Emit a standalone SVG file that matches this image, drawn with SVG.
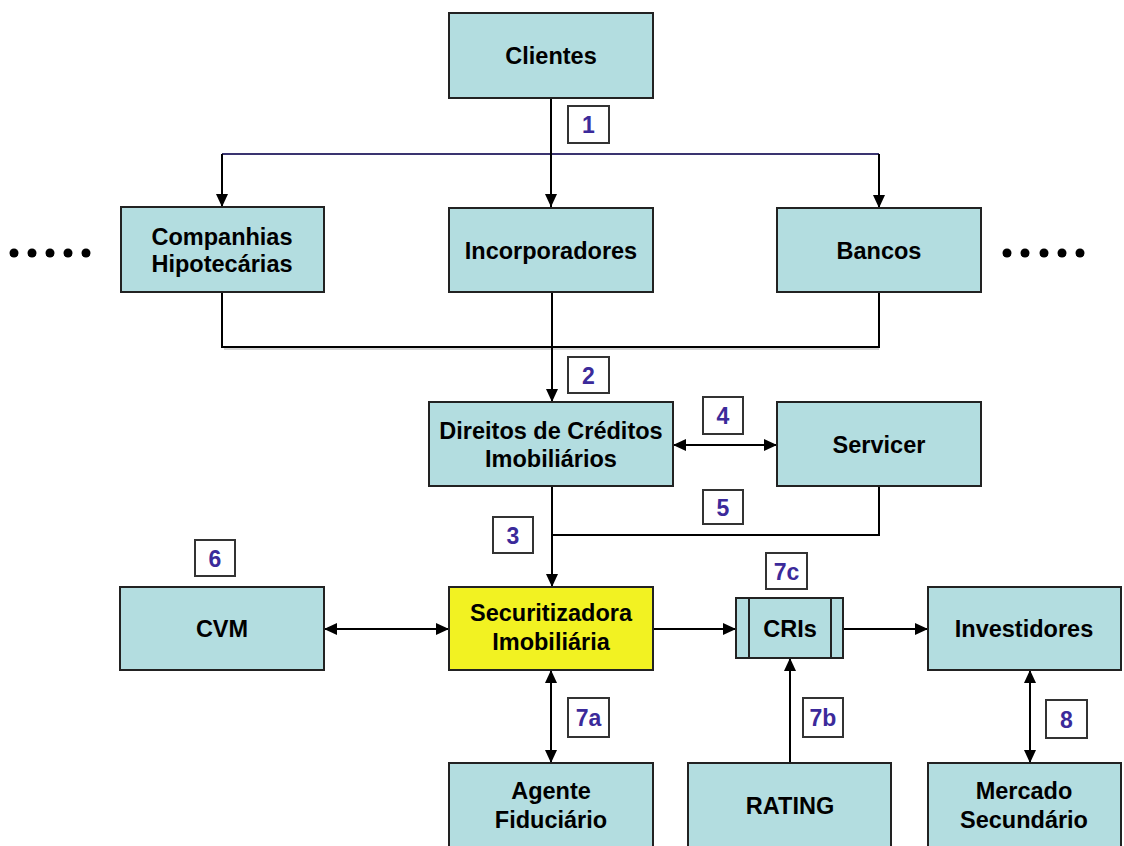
<svg xmlns="http://www.w3.org/2000/svg" width="1124" height="846" viewBox="0 0 1124 846">
<defs>
<marker id="ah" viewBox="0 0 13 12" refX="13" refY="6" markerWidth="13" markerHeight="12" markerUnits="userSpaceOnUse" orient="auto-start-reverse">
<path d="M0,0 L13,6 L0,12 z" fill="#000"/>
</marker>
<style>
.box{fill:#b3dde0;stroke:#222;stroke-width:2}
.yel{fill:#f2f222;stroke:#222;stroke-width:2}
.t{font-family:"Liberation Sans",Arial,sans-serif;font-weight:bold;font-size:23.5px;fill:#000;text-anchor:middle}
.lb{fill:#fff;stroke:#333;stroke-width:2}
.lt{font-family:"Liberation Sans",Arial,sans-serif;font-weight:bold;font-size:23px;fill:#3b2a9a;text-anchor:middle}
.c{fill:none;stroke:#000;stroke-width:2}
.a{fill:none;stroke:#000;stroke-width:2;marker-end:url(#ah)}
.d{fill:none;stroke:#000;stroke-width:2;marker-start:url(#ah);marker-end:url(#ah)}
</style>
</defs>
<rect width="1124" height="846" fill="#fff"/>

<g id="connectors">
<line x1="222" y1="154" x2="879" y2="154" stroke="#3a3470" stroke-width="2"/>
<line class="a" x1="551" y1="98" x2="551" y2="207"/>
<line class="a" x1="222" y1="154" x2="222" y2="207"/>
<line class="a" x1="879" y1="154" x2="879" y2="208"/>
<polyline class="c" points="222,292 222,347 879,347 879,292" stroke="#333"/>
<line x1="224" y1="349" x2="879" y2="349" stroke="#aaa" stroke-width="1"/>
<line class="a" x1="552" y1="292" x2="552" y2="402"/>
<line class="d" x1="673" y1="445" x2="777" y2="445"/>
<polyline class="c" points="879,486 879,535 552,535"/>
<line class="a" x1="552" y1="486" x2="552" y2="587"/>
<line class="d" x1="324" y1="629" x2="449" y2="629"/>
<line class="a" x1="653" y1="629" x2="736" y2="629"/>
<line class="a" x1="843" y1="629" x2="928" y2="629"/>
<line class="d" x1="551" y1="670" x2="551" y2="763"/>
<line class="a" x1="790" y1="763" x2="790" y2="658"/>
<line class="d" x1="1030" y1="670" x2="1030" y2="763"/>
</g>

<g id="dots-left" fill="#000">
<circle cx="14" cy="253" r="4.5"/><circle cx="32" cy="253" r="4.5"/><circle cx="50" cy="253" r="4.5"/><circle cx="68" cy="253" r="4.5"/><circle cx="86" cy="253" r="4.5"/>
</g>
<g id="dots-right" fill="#000">
<circle cx="1007" cy="253" r="4.5"/><circle cx="1025" cy="253" r="4.5"/><circle cx="1044" cy="253" r="4.5"/><circle cx="1062" cy="253" r="4.5"/><circle cx="1080" cy="253" r="4.5"/>
</g>

<g id="clientes"><rect class="box" x="449" y="13" width="204" height="85"/><text class="t" x="551" y="64">Clientes</text></g>
<g id="companhias"><rect class="box" x="121" y="207" width="203" height="85"/><text class="t" x="222" y="245">Companhias</text><text class="t" x="222" y="272">Hipotecárias</text></g>
<g id="incorporadores"><rect class="box" x="449" y="208" width="204" height="84"/><text class="t" x="551" y="259">Incorporadores</text></g>
<g id="bancos"><rect class="box" x="777" y="208" width="204" height="84"/><text class="t" x="879" y="259">Bancos</text></g>
<g id="direitos"><rect class="box" x="429" y="402" width="244" height="84"/><text class="t" x="551" y="439">Direitos de Créditos</text><text class="t" x="551" y="467">Imobiliários</text></g>
<g id="servicer"><rect class="box" x="777" y="402" width="204" height="84"/><text class="t" x="879" y="453">Servicer</text></g>
<g id="cvm"><rect class="box" x="120" y="587" width="204" height="83"/><text class="t" x="222" y="637">CVM</text></g>
<g id="securitizadora"><rect class="yel" x="449" y="587" width="204" height="83"/><text class="t" x="551" y="621">Securitizadora</text><text class="t" x="551" y="650">Imobiliária</text></g>
<g id="cris"><rect class="box" x="736" y="598" width="107" height="60"/><line x1="749" y1="598" x2="749" y2="658" stroke="#222" stroke-width="2"/><line x1="831" y1="598" x2="831" y2="658" stroke="#222" stroke-width="2"/><text class="t" x="790" y="637">CRIs</text></g>
<g id="investidores"><rect class="box" x="928" y="587" width="193" height="83"/><text class="t" x="1024" y="637">Investidores</text></g>
<g id="agente"><rect class="box" x="449" y="763" width="204" height="90"/><text class="t" x="551" y="799">Agente</text><text class="t" x="551" y="828">Fiduciário</text></g>
<g id="rating"><rect class="box" x="688" y="763" width="203" height="90"/><text class="t" x="790" y="814">RATING</text></g>
<g id="mercado"><rect class="box" x="928" y="763" width="193" height="90"/><text class="t" x="1024" y="799">Mercado</text><text class="t" x="1024" y="828">Secundário</text></g>

<g id="labels">
<g id="l1"><rect class="lb" x="568" y="106" width="41" height="37"/><text class="lt" x="588.5" y="133">1</text></g>
<g id="l2"><rect class="lb" x="568" y="357" width="41" height="36"/><text class="lt" x="588.5" y="383.5">2</text></g>
<g id="l3"><rect class="lb" x="493" y="517" width="40" height="36"/><text class="lt" x="513" y="543.5">3</text></g>
<g id="l4"><rect class="lb" x="703" y="397" width="40" height="37"/><text class="lt" x="723" y="424">4</text></g>
<g id="l5"><rect class="lb" x="703" y="490" width="40" height="34"/><text class="lt" x="723" y="515.5">5</text></g>
<g id="l6"><rect class="lb" x="195" y="540" width="40" height="36"/><text class="lt" x="215" y="566.5">6</text></g>
<g id="l7c"><rect class="lb" x="766" y="553" width="41" height="36"/><text class="lt" x="786.5" y="579.5">7c</text></g>
<g id="l7a"><rect class="lb" x="568" y="698" width="41" height="39"/><text class="lt" x="588.5" y="726">7a</text></g>
<g id="l7b"><rect class="lb" x="803" y="698" width="40" height="39"/><text class="lt" x="823" y="726">7b</text></g>
<g id="l8"><rect class="lb" x="1046" y="700" width="41" height="38"/><text class="lt" x="1066.5" y="727.5">8</text></g>
</g>
</svg>
